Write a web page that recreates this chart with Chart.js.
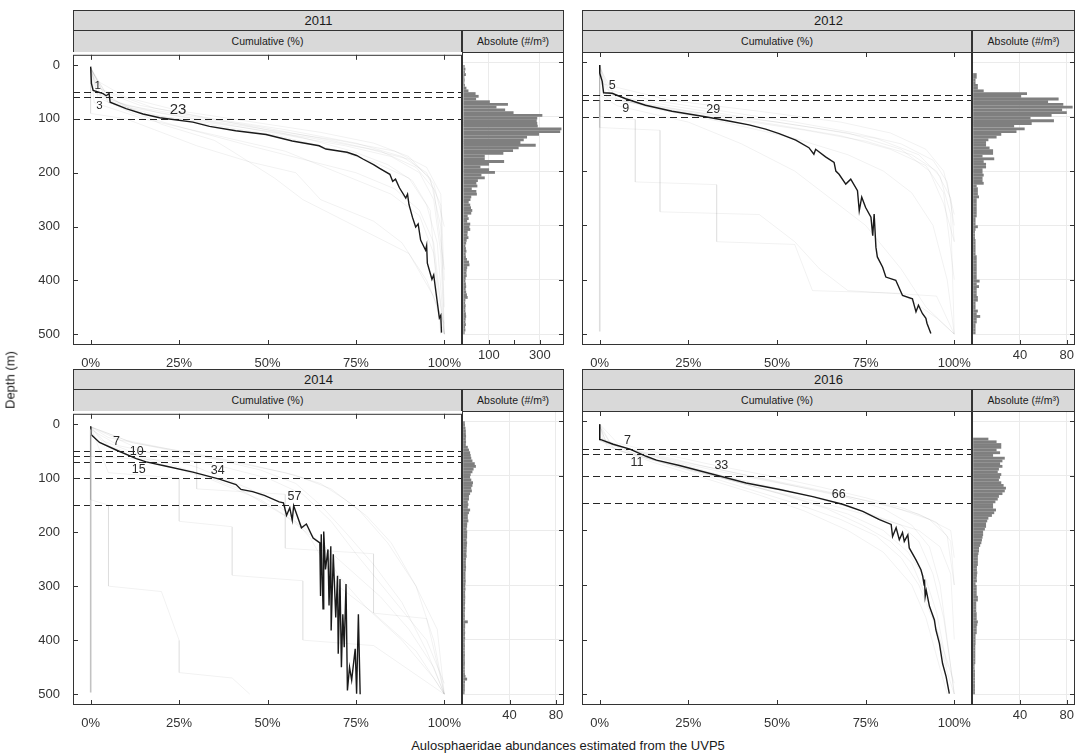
<!DOCTYPE html>
<html>
<head>
<meta charset="utf-8">
<script src="https://cdn.jsdelivr.net/npm/chart.js@4.4.1/dist/chart.umd.min.js"></script>
<style>
  body { margin: 0; background: #fff; }
  #fig { position: relative; width: 1086px; height: 754px; overflow: hidden;
         font-family: "Liberation Sans", Arial, Helvetica, sans-serif; color: #1a1a1a; }
  .strip { position: absolute; box-sizing: border-box; background: #d9d9d9; border: 1px solid #333;
           text-align: center; white-space: nowrap; }
  .sub { border-bottom: none; font-size: 10.5px; }
  .year { font-size: 13px; }
  canvas { position: absolute; }
  .title { position: absolute; font-size: 13px; white-space: nowrap; }
</style>
</head>
<body>
<div id="fig"></div>
<script>
// --- shared ticks / bins ---
const cumTicks = [0, 25, 50, 75, 100];
const depthTicks = [0, 100, 200, 300, 400, 500];

// depth bin centres of the absolute profiles (m)
const absDepth = [
  2.5, 7.5, 12.5, 17.5, 22.5, 27.5, 32.5, 37.5, 42.5, 47.5,
  52.5, 57.5, 62.5, 67.5, 72.5, 77.5, 82.5, 87.5, 92.5, 97.5,
  102.5, 107.5, 112.5, 117.5, 122.5, 127.5, 132.5, 137.5, 142.5, 147.5,
  152.5, 157.5, 162.5, 167.5, 172.5, 177.5, 182.5, 187.5, 192.5, 197.5,
  202.5, 207.5, 212.5, 217.5, 222.5, 227.5, 232.5, 237.5, 242.5, 247.5,
  252.5, 257.5, 262.5, 267.5, 272.5, 277.5, 282.5, 287.5, 292.5, 297.5,
  302.5, 307.5, 312.5, 317.5, 322.5, 327.5, 332.5, 337.5, 342.5, 347.5,
  352.5, 357.5, 362.5, 367.5, 372.5, 377.5, 382.5, 387.5, 392.5, 397.5,
  402.5, 407.5, 412.5, 417.5, 422.5, 427.5, 432.5, 437.5, 442.5, 447.5,
  452.5, 457.5, 462.5, 467.5, 472.5, 477.5, 482.5, 487.5, 492.5, 497.5
];

// --- 2011 ---
const mainDepth2011 = [3,34,47,53,57,53,69,81,91,98,106,114,122,129,141,150,156,162,168,175,185,192,203,216,212,228,247,240,259,283,301,295,325,344,335,368,398,390,435,470,465,497];
const mainCum2011   = [0,0.2,0.7,3.5,4.4,5.2,5.5,10,14.8,19.5,28.9,33.6,41,49.6,57,64.6,66.5,72.5,75.2,77.1,80,81.7,84.6,85.4,86.2,87.3,89.1,89.6,90,91,91.9,92.6,93.3,94.7,95,95.2,96.5,97,97.9,98.6,99,99.2];
const abs2011 = [
  0, 5, 8, 6, 10, 4, 5, 4, 6, 12,
  20, 48, 60, 50, 104, 175, 130, 164, 197, 310,
  290, 288, 290, 292, 385, 380, 297, 250, 237, 224,
  284, 217, 195, 157, 84, 84, 160, 101, 67, 101,
  124, 71, 84, 57, 51, 55, 33, 51, 53, 31,
  28, 21, 27, 30, 35, 31, 17, 21, 15, 27,
  24, 27, 17, 16, 20, 13, 11, 8, 10, 12,
  9, 10, 14, 22, 24, 15, 13, 12, 13, 9,
  8, 10, 11, 9, 11, 14, 17, 8, 7, 9,
  8, 8, 10, 11, 9, 8, 10, 7, 8, 5
];
const dash2011 = [50, 60, 100];
const labels2011 = [['1', 2, 38], ['3', 2.5, 75], ['23', 24.7, 84]];
const faint2011 = [
  [[5,0],[40,2],[70,8],[90,20],[110,38],[130,55],[150,72],[170,85],[200,93],[250,97],[350,99],[500,100]],
  [[5,0],[50,1],[80,12],[100,30],[120,50],[140,70],[160,86],[190,95],[240,99],[400,100]],
  [[10,0],[60,3],[90,15],[110,33],[130,52],[150,65],[180,80],[210,90],[260,95],[330,98],[500,100]],
  [[5,0],[70,5],[95,20],[115,42],[135,62],[155,78],[175,90],[210,96],[300,99],[450,100]],
  [[10,0],[90,0],[100,10],[120,18],[150,30],[180,45],[200,58],[250,65],[290,80],[330,88],[400,95],[480,100]],
  [[5,0],[60,5],[110,20],[140,35],[160,40],[210,52],[250,60],[300,75],[350,90],[430,97],[500,100]],
  [[5,0],[30,2],[60,10],[85,25],[105,45],[125,65],[145,80],[170,90],[220,97],[300,100]],
  [[5,0],[55,2],[75,10],[95,28],[115,48],[140,68],[160,82],[190,92],[230,97],[380,100]],
  [[10,0],[70,1],[100,15],[130,35],[160,55],[200,70],[240,85],[280,93],[350,97],[500,100]],
  [[5,0],[45,3],[80,18],[100,35],[120,55],[145,75],[170,88],[200,95],[260,99],[500,100]],
  [[5,0],[60,2],[90,12],[120,28],[150,45],[175,60],[200,75],[230,86],[270,93],[330,97],[500,100]],
  [[8,0],[50,4],[75,14],[95,30],[115,46],[135,60],[160,74],[185,84],[215,91],[270,96],[500,99]]
];

// --- 2012 ---
const mainDepth2012 = [5,20,35,56,57,67,79,90,100,108,115,123,131,143,157,169,160,174,184,200,206,224,215,236,273,248,267,285,319,279,340,358,377,395,401,429,435,459,447,462,471,480,499];
const mainCum2012   = [0,0,0.7,1.1,3.5,7.3,12.9,20.4,29.8,36.4,42.1,46.8,50.6,55.3,59,60.4,60.9,63.7,66.1,66.6,67.5,69.4,70.8,72.7,73.2,73.9,75,76.5,77,77.4,77.9,78.3,79.8,80.7,83.5,85.4,88.2,89.2,89.9,91,92,92.3,93.4];
const abs2012 = [
  0, 0, 0, 0, 3, 3, 2, 2, 4, 4,
  9, 46, 41, 73, 64, 77, 85, 76, 80, 67,
  49, 69, 50, 35, 44, 37, 24, 20, 13, 11,
  11, 14, 17, 17, 8, 18, 9, 11, 11, 8,
  8, 9, 8, 8, 9, 3, 4, 4, 4, 5,
  3, 3, 3, 3, 3, 3, 3, 2, 2, 2,
  4, 2, 1.5, 1.5, 1.5, 2, 2, 2, 2, 2,
  2, 3, 3, 3, 3, 3, 3, 3, 3, 3,
  5.5, 3, 5, 3, 3, 3, 4, 4, 2, 2,
  2, 4, 3, 6, 3, 3, 2, 2, 2, 2
];
const dash2012 = [60, 70, 100];
const labels2012 = [['5', 3.5, 43], ['9', 7.3, 85], ['29', 32, 87]];
const zero2012 = [70, 495];
const faint2012 = [
  [[5,0],[50,2],[70,15],[90,35],[110,55],[130,72],[150,85],[180,94],[220,98],[300,100]],
  [[5,0],[60,3],[80,20],[100,40],[120,60],[140,78],[170,90],[210,96],[280,99],[500,100]],
  [[10,0],[55,1],[75,12],[95,30],[115,50],[135,68],[160,82],[190,92],[240,97],[400,100]],
  [[20,0],[120,0],[125,17],[275,17],[280,45],[330,55],[380,62],[420,70],[430,95],[500,100]],
  [[5,0],[60,0],[80,5],[110,25],[150,40],[200,55],[250,65],[300,75],[380,85],[450,92],[500,100]],
  [[10,0],[70,5],[90,25],[110,50],[130,70],[160,85],[200,93],[260,97],[330,100]],
  [[5,0],[100,0],[105,10],[220,10],[225,33],[330,33],[335,55],[420,60],[425,85],[470,95],[500,100]],
  [[5,0],[65,2],[85,18],[105,38],[125,58],[145,75],[170,88],[200,95],[250,99],[330,100]],
  [[5,0],[40,1],[70,20],[90,45],[110,68],[130,82],[160,92],[200,97],[280,100]],
  [[5,0],[60,1],[85,15],[110,35],[140,55],[170,70],[200,80],[240,88],[300,94],[400,98],[500,100]]
];

// --- 2014 ---
const mainDepth2014 = [4,20,23,34,48,64,70,78,89,102,112,121,125,132,144,146,169,155,178,151,192,185,211,220,318,204,342,199,269,232,336,226,382,241,358,281,425,287,450,352,413,296,493,450,474,416,499,352,500];
const mainCum2014   = [0,0.2,0.7,2.5,7.2,12.9,15.7,21.4,28.9,36.4,41.1,42.5,45.8,49.1,53.3,54.5,55.4,56.3,57,57.4,59.6,61,62.9,64.8,65,65.2,65.7,65.9,66.4,67.1,67.4,67.9,68,68.6,69.3,69.8,70,70.5,70.9,71.3,71.7,72.2,72.6,73.2,73.8,74.8,75.2,75.7,76.2];
const abs2014 = [
  1.4, 1.5, 2, 2.3, 2.3, 2.5, 2.3, 2.5, 2.3, 4,
  5, 6, 6.5, 7, 8, 10, 11, 9, 8, 6.5,
  6, 7, 8.5, 8, 7, 7.5, 6, 5, 5, 4,
  4.5, 4, 6, 5, 4, 4, 4.5, 3.5, 3.4, 3,
  3.5, 3.4, 3.4, 3, 3.4, 3.2, 3, 3, 2.8, 3,
  2.5, 2.3, 2.3, 2.5, 2.3, 2, 2, 2, 2.2, 2,
  1.8, 2, 1.7, 1.7, 1.8, 1.7, 1.7, 1.5, 1.7, 1.5,
  1.4, 1.5, 1.4, 4, 1.7, 1.7, 1.5, 1.7, 1.5, 1.7,
  1.4, 1.4, 1.5, 1.4, 1.4, 1.5, 1.4, 1.4, 1.5, 1.4,
  1.4, 1.4, 1.5, 2, 3.4, 1.6, 1.4, 1.4, 1.4, 1.2
];
const dash2014 = [50, 60, 70, 100, 150];
const labels2014 = [['7', 7.3, 32], ['10', 13, 50], ['15', 13.6, 85], ['34', 35.9, 86], ['57', 57.6, 135]];
const zero2014 = [10, 497];
const faint2014 = [
  [[5,0],[30,10],[50,25],[70,40],[90,55],[110,65],[140,72],[170,78],[220,85],[300,92],[400,97],[500,100]],
  [[5,0],[25,5],[45,20],[65,35],[85,48],[110,58],[150,65],[200,72],[260,80],[330,88],[420,95],[500,100]],
  [[10,0],[40,8],[60,22],[80,38],[100,50],[130,60],[180,68],[240,75],[320,85],[400,95],[480,100]],
  [[10,0],[60,0],[70,30],[120,30],[130,55],[230,55],[240,80],[350,80],[360,95],[500,100]],
  [[5,0],[50,15],[80,30],[120,45],[160,55],[210,62],[300,70],[350,80],[420,92],[500,100]],
  [[5,0],[90,5],[100,25],[180,25],[190,40],[280,40],[290,60],[400,60],[410,80],[500,100]],
  [[5,0],[35,12],[55,30],[75,45],[95,58],[120,68],[160,76],[220,84],[300,92],[380,98],[500,100]],
  [[20,0],[140,0],[150,5],[300,5],[310,20],[400,25],[460,25],[470,40],[500,45]],
  [[5,0],[40,5],[70,18],[100,33],[140,48],[190,60],[250,70],[320,82],[380,90],[450,97],[500,100]],
  [[5,0],[30,3],[60,15],[90,30],[120,42],[170,55],[220,65],[280,70],[340,78],[400,88],[470,97],[500,100]]
];

// --- 2016 ---
const mainDepth2016 = [5.5,33,34,42,51,64,71,81,97,113,125,138,152,165,180,189,211,195,217,204,220,208,232,254,272,284,300,290,321,310,339,364,382,407,444,468,499];
const mainCum2016   = [0,0,0.5,3.8,8.5,13.1,16,22.5,31.9,41.3,50.7,60.1,68.5,74.2,78.9,82.2,82.6,83.6,84.5,85.4,85.9,86.9,87.3,89.2,90.6,91.1,91.5,91.6,91.8,92.1,93,94.4,94.8,95.8,96.7,97.7,98.6];
const abs2016 = [
  0, 0, 0, 0, 0, 0, 13, 20, 24, 24,
  20, 23, 17, 27, 25, 23, 25, 22, 21, 24,
  23, 22, 24, 26, 28, 27, 25, 22, 21, 19,
  17, 17, 19.5, 18, 16, 13, 12, 11, 11, 10,
  8.5, 8.5, 8, 7.5, 7, 6, 5, 5, 4.5, 4,
  4, 4, 4, 3.2, 3.2, 3.5, 3.2, 3, 3.2, 2,
  3, 3, 3, 3, 4, 4, 2.6, 2.6, 2.6, 2.6,
  3, 3, 3, 4, 3.5, 3, 3, 3, 2, 2,
  2, 2, 1.8, 1.8, 1.8, 1.8, 1.8, 1.8, 1.8, 1.2,
  1.2, 1.5, 1.5, 1.5, 1.5, 1.5, 1.5, 1.5, 1.5, 1.5
];
const dash2016 = [50, 60, 100, 150];
const labels2016 = [['7', 7.8, 35], ['11', 10.5, 76], ['33', 34.3, 81], ['66', 67.4, 135]];
const faint2016 = [
  [[5,0],[30,0],[50,8],[70,20],[90,35],[110,50],[130,65],[150,78],[170,90],[200,99],[250,100]],
  [[5,0],[35,0],[55,10],[75,22],[95,36],[115,52],[135,68],[155,82],[180,93],[210,98],[300,100]],
  [[10,0],[40,2],[60,15],[80,28],[100,42],[120,56],[140,70],[160,80],[190,88],[230,93],[300,96],[400,98],[500,100]],
  [[5,0],[35,1],[60,10],[85,24],[110,38],[135,52],[160,64],[190,74],[220,82],[260,88],[320,92],[400,96],[480,100]],
  [[5,0],[40,3],[70,18],[100,35],[130,55],[160,72],[190,85],[220,90],[280,94],[360,97],[450,99],[500,100]],
  [[10,0],[35,0],[65,12],[90,25],[120,40],[150,55],[180,68],[210,78],[250,85],[300,90],[380,95],[460,98],[500,100]],
  [[5,0],[40,5],[60,18],[80,32],[100,48],[120,62],[140,75],[160,86],[185,95],[220,99],[300,100]],
  [[5,0],[45,2],[75,15],[105,30],[135,45],[165,58],[200,70],[240,80],[300,88],[360,92],[430,95],[500,98]],
  [[10,0],[50,4],[80,20],[110,38],[140,55],[170,70],[200,80],[240,87],[290,92],[350,95],[450,98]],
  [[5,0],[35,0],[55,6],[80,20],[105,35],[130,50],[155,66],[180,80],[200,90],[230,96],[280,99],[400,100]]
];

// --- layout ---
const FONT = '"Liberation Sans", Arial, Helvetica, sans-serif';
Chart.defaults.font.family = FONT;
Chart.defaults.font.size = 13;
Chart.defaults.color = '#333';

const cols = [
  { cumL: 73, cumW: 389, absL: 462, absW: 102 },
  { cumL: 582, cumW: 390, absL: 972, absW: 103 }
];
const rows = [
  { top: 10, plotT: 52, plotH: 293 },
  { top: 369, plotT: 411, plotH: 294 }
];

const panels = [
  { year: '2011', col: 0, row: 0, depth: mainDepth2011, cum: mainCum2011, faint: faint2011, zero: null,
    dashes: dash2011, labels: labels2011, big: ['23'], small: ['1', '3'],
    abs: abs2011, absMin: -5.3, absMax: 395, absTicks: [100, 300], absMarks: [100, 200, 300] },
  { year: '2012', col: 1, row: 0, depth: mainDepth2012, cum: mainCum2012, faint: faint2012, zero: zero2012,
    dashes: dash2012, labels: labels2012, big: [], small: [],
    abs: abs2012, absMin: -1, absMax: 87, absTicks: [40, 80], absMarks: [40, 80] },
  { year: '2014', col: 0, row: 1, depth: mainDepth2014, cum: mainCum2014, faint: faint2014, zero: zero2014,
    dashes: dash2014, labels: labels2014, big: [], small: [],
    abs: abs2014, absMin: -1, absMax: 87, absTicks: [40, 80], absMarks: [40, 80] },
  { year: '2016', col: 1, row: 1, depth: mainDepth2016, cum: mainCum2016, faint: faint2016, zero: null,
    dashes: dash2016, labels: labels2016, big: [], small: [],
    abs: abs2016, absMin: -1, absMax: 87, absTicks: [40, 80], absMarks: [40, 80] }
];

const fig = document.getElementById('fig');

function addDiv(cls, l, t, w, h, text) {
  const d = document.createElement('div');
  d.className = cls;
  Object.assign(d.style, { left: l + 'px', top: t + 'px', width: w + 'px', height: h + 'px', lineHeight: (h - 2) + 'px' });
  d.textContent = text;
  fig.appendChild(d);
  return d;
}

function makeCanvas(l, t, w, h) {
  const c = document.createElement('canvas');
  c.width = w; c.height = h;
  Object.assign(c.style, { left: l + 'px', top: t + 'px', width: w + 'px', height: h + 'px' });
  fig.appendChild(c);
  return c;
}

// dashed lines, value labels, inward tick marks and the panel border
function makeDeco(cfg) {
  return {
    id: 'deco',
    beforeDatasetsDraw(chart) {
      const { ctx, chartArea: a, scales: { x, y } } = chart;
      ctx.save();
      ctx.beginPath(); ctx.rect(a.left, a.top, a.width, a.height); ctx.clip();
      (cfg.labels || []).forEach(([t, cx, cy]) => {
        const size = cfg.big.includes(t) ? 15 : cfg.small.includes(t) ? 11.5 : 12.5;
        ctx.font = size + 'px ' + FONT;
        ctx.fillStyle = '#2a2a2a';
        ctx.textAlign = 'center';
        ctx.textBaseline = 'middle';
        ctx.fillText(t, x.getPixelForValue(cx), y.getPixelForValue(cy));
      });
      ctx.strokeStyle = '#262626';
      ctx.lineWidth = 1.2;
      ctx.setLineDash([7, 4]);
      (cfg.dashes || []).forEach(d => {
        const py = Math.round(y.getPixelForValue(d)) + 0.5;
        ctx.beginPath(); ctx.moveTo(a.left, py); ctx.lineTo(a.right, py); ctx.stroke();
      });
      ctx.restore();
    },
    afterDraw(chart) {
      const { ctx, chartArea: a, scales: { x, y } } = chart;
      const tk = 5;
      ctx.save();
      ctx.strokeStyle = '#333';
      ctx.lineWidth = 1;
      const seg = (x1, y1, x2, y2) => { ctx.beginPath(); ctx.moveTo(x1, y1); ctx.lineTo(x2, y2); ctx.stroke(); };
      (cfg.left || []).forEach(v => { const p = Math.round(y.getPixelForValue(v)) + 0.5; seg(a.left, p, a.left + tk, p); });
      (cfg.right || []).forEach(v => { const p = Math.round(y.getPixelForValue(v)) + 0.5; seg(a.right - tk, p, a.right, p); });
      (cfg.top || []).forEach(v => { const p = Math.round(x.getPixelForValue(v)) + 0.5; seg(p, a.top, p, a.top + tk); });
      (cfg.bottom || []).forEach(v => { const p = Math.round(x.getPixelForValue(v)) + 0.5; seg(p, a.bottom - tk, p, a.bottom); });
      ctx.strokeRect(a.left + 0.5, a.top + 0.5, a.width - 1, a.height - 1);
      ctx.restore();
    }
  };
}

const yScale = (show, width) => ({
  type: 'linear', reverse: true, min: -19, max: 520, offset: false, display: show,
  afterBuildTicks: s => { s.ticks = depthTicks.map(v => ({ value: v })); },
  afterFit: s => { s.width = width; },
  border: { display: false },
  ticks: { padding: 5, autoSkip: false }
});

panels.forEach(p => {
  const col = cols[p.col], row = rows[p.row];

  // strips
  addDiv('strip year', col.cumL, row.top, col.absL + col.absW - col.cumL, 21, p.year);
  addDiv('strip sub', col.cumL, row.top + 20, col.cumW, 22, 'Cumulative (%)');
  addDiv('strip sub', col.absL, row.top + 20, col.absW, 22, 'Absolute (#/m³)');

  // cumulative panel
  const ds = p.faint.map(prof => ({
    data: prof.map(([d, c]) => ({ x: c, y: d })),
    borderColor: 'rgba(0,0,0,0.055)', borderWidth: 1
  }));
  if (p.zero) {
    ds.push({ data: p.zero.map(d => ({ x: 0, y: d })), borderColor: p.row === 1 ? '#c2c2c2' : '#dddddd', borderWidth: 1.6 });
  }
  ds.push({ data: p.depth.map((d, i) => ({ x: p.cum[i], y: d })), borderColor: '#1a1a1a', borderWidth: 1.4 });

  const hasY = p.col === 0;
  const padL = hasY ? col.cumL : 10;
  const cv = makeCanvas(col.cumL - padL, row.plotT - 10, padL + col.cumW + 10, 10 + row.plotH + 26);
  const yc = yScale(hasY, hasY ? padL : 0);
  yc.grid = { display: false };
  new Chart(cv, {
    type: 'line',
    data: { datasets: ds },
    options: {
      responsive: false, animation: false, devicePixelRatio: 1,
      layout: { padding: { top: 10, right: 10, bottom: 0, left: hasY ? 0 : 10 } },
      elements: { point: { radius: 0 }, line: { tension: 0, fill: false } },
      plugins: { legend: { display: false }, tooltip: { enabled: false } },
      scales: {
        x: {
          type: 'linear', min: -5, max: 105,
          afterBuildTicks: s => { s.ticks = cumTicks.map(v => ({ value: v })); },
          afterFit: s => { s.height = 26; },
          grid: { display: false }, border: { display: false },
          ticks: { callback: v => v + '%', autoSkip: false, maxRotation: 0, padding: 3 }
        },
        y: yc
      }
    },
    plugins: [makeDeco({ dashes: p.dashes, labels: p.labels, big: p.big, small: p.small,
                         left: depthTicks, top: cumTicks, bottom: cumTicks })]
  });

  // absolute panel
  const cv2 = makeCanvas(col.absL - 10, row.plotT - 10, col.absW + 20, 10 + row.plotH + 26);
  const ya = yScale(true, 0);
  ya.ticks = { display: false };
  ya.grid = { color: '#ebebeb', drawTicks: false, offset: false };
  new Chart(cv2, {
    type: 'bar',
    data: {
      datasets: [{
        data: absDepth.map((d, i) => ({ x: p.abs[i], y: d })),
        backgroundColor: '#7f7f7f', borderWidth: 0, barPercentage: 1.04, categoryPercentage: 1
      }]
    },
    options: {
      indexAxis: 'y',
      responsive: false, animation: false, devicePixelRatio: 1,
      layout: { padding: { top: 10, right: 10, bottom: 0, left: 10 } },
      plugins: { legend: { display: false }, tooltip: { enabled: false } },
      scales: {
        x: {
          type: 'linear', min: p.absMin, max: p.absMax,
          afterBuildTicks: s => { s.ticks = p.absTicks.map(v => ({ value: v })); },
          afterFit: s => { s.height = 26; },
          grid: { color: '#ebebeb', drawTicks: false }, border: { display: false },
          ticks: { autoSkip: false, maxRotation: 0, padding: 3 }
        },
        y: ya
      }
    },
    plugins: [makeDeco({ right: depthTicks, bottom: p.absMarks })]
  });
});

// axis titles
const yt = document.createElement('div');
yt.className = 'title';
yt.textContent = 'Depth (m)';
Object.assign(yt.style, { left: '10px', top: '380px', transform: 'translate(-50%, -50%) rotate(-90deg)' });
fig.appendChild(yt);

const xt = document.createElement('div');
xt.className = 'title';
xt.textContent = 'Aulosphaeridae abundances estimated from the UVP5';
Object.assign(xt.style, { left: '568px', top: '745px', transform: 'translate(-50%, -50%)' });
fig.appendChild(xt);
</script>
</body>
</html>
